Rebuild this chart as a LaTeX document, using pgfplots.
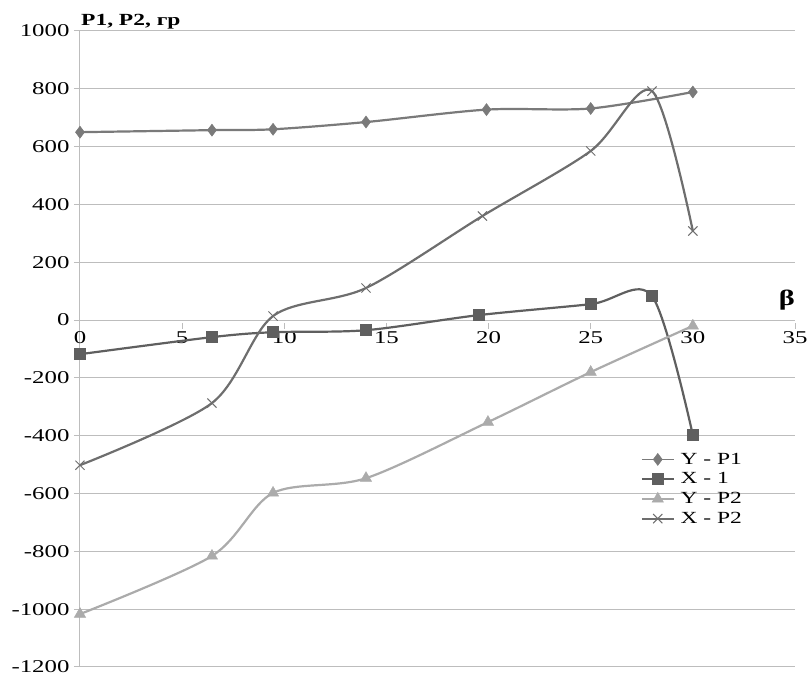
\documentclass[border=0pt]{standalone}
\usepackage{fontspec}
\setmainfont[FakeStretch=1.38]{Liberation Serif}
\usepackage{pgfplots}
\pgfplotsset{compat=1.18}
\definecolor{cA}{HTML}{7A7A7A}
\definecolor{cB}{HTML}{5F5F5F}
\definecolor{cC}{HTML}{ABABAB}
\definecolor{cD}{HTML}{6E6E6E}
\definecolor{gridc}{HTML}{BDBDBD}
\begin{document}
\begin{tikzpicture}
\begin{axis}[
  at={(0,0)}, anchor=south west,
  scale only axis, width=715pt, height=636pt,
  xmin=0, xmax=35, ymin=-1200, ymax=1000,
  axis x line=middle, axis y line=left,
  axis line style={gridc, line width=1pt, -},
  hide obscured x ticks=false,
  xtick={0,5,10,15,20,25,30,35},
  xticklabels={0,5,10,15,20,25,30,35},
  ytick={-1200,-1000,-800,-600,-400,-200,0,200,400,600,800,1000},
  yticklabels={-1200,-1000,-800,-600,-400,-200,0,200,400,600,800,1000},
  ymajorgrids, grid style={gridc, line width=1pt},
  tick style={gridc, line width=1pt},
  x tick style={yshift=-2.5pt},
  major tick length=6pt,
  tick align=outside,
  ticklabel style={font=\fontsize{18}{20}\selectfont},
  yticklabel style={xshift=-1pt},
  xticklabel style={yshift=-2pt},
  clip=false,
  legend style={at={(0.78,0.343)}, anchor=north west, draw=none, fill=none,
    font=\fontsize{17}{17}\selectfont, row sep=3pt,
    legend cell align=left, nodes={inner xsep=6pt}},
  legend image code/.code={\draw[#1, line width=1.8pt] (0pt,0pt) -- (32pt,0pt); \draw[#1, mark repeat=1] plot coordinates {(16pt,0pt)};},
]
\addplot[color=cA, line width=2.2pt, smooth, mark=diamond*, mark size=6pt, mark options={fill=cA, line width=0.5pt}]
  coordinates {(0,650) (6.46,657) (9.45,660) (14,685) (19.9,728) (25,732) (30,789)};
\addlegendentry{Y - P1}
\addplot[color=cB, line width=2.2pt, smooth, mark=square*, mark size=5.5pt, mark options={fill=cB, line width=0.5pt}]
  coordinates {(0,-118) (6.46,-59) (9.45,-42) (14,-35) (19.5,17) (25,55) (28,83) (30,-398)};
\addlegendentry{X - 1}
\addplot[color=cC, line width=2.2pt, smooth, mark=triangle*, mark size=6.5pt, mark options={fill=cC, line width=0.5pt}]
  coordinates {(0,-1017) (6.46,-816) (9.45,-598) (14,-547) (19.97,-353) (25,-180) (30,-20)};
\addlegendentry{Y - P2}
\addplot[color=cD, line width=2.2pt, smooth, mark=x, mark size=6.5pt, mark options={line width=1pt}]
  coordinates {(0,-502) (6.46,-287) (9.45,14) (14,111) (19.7,360) (25,585) (28,792) (30,308)};
\addlegendentry{X - P2}
\node[anchor=south west, inner sep=0pt, font=\fontsize{17}{20}\selectfont\bfseries] at (rel axis cs:0,1) [xshift=1pt, yshift=2pt] {P1, P2, гр};
\node[font=\fontsize{22}{24}\selectfont\bfseries] at (axis cs:34.6,70) {β};
\end{axis}
\pgfresetboundingbox
\path (-80pt,-9pt) rectangle (729pt,667pt);
\end{tikzpicture}
\end{document}
